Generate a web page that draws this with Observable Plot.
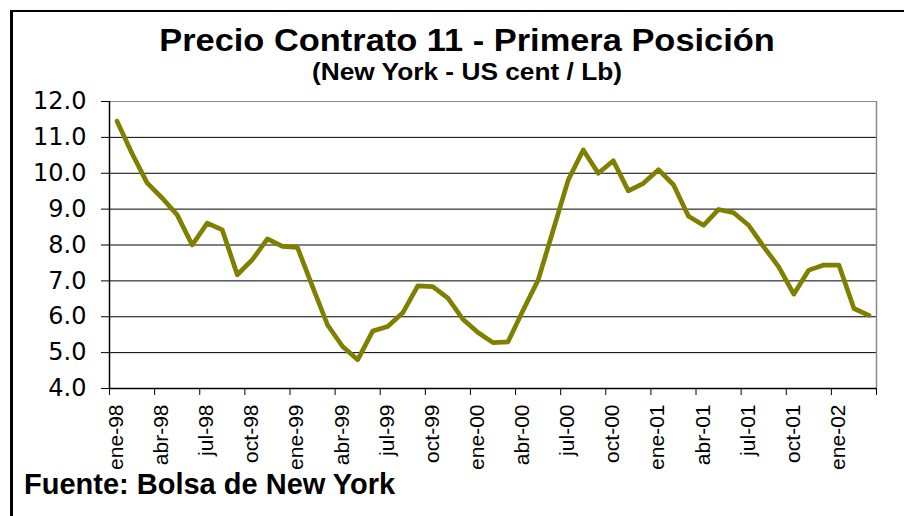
<!DOCTYPE html>
<html>
<head>
<meta charset="utf-8">
<script src="https://cdn.jsdelivr.net/npm/d3@7"></script>
<script src="https://cdn.jsdelivr.net/npm/@observablehq/plot@0.6"></script>
<style>
  html, body { margin: 0; padding: 0; background: #fff; }
  #wrap { position: relative; width: 904px; height: 516px; overflow: hidden; background: #fff; }
  #frame { position: absolute; left: 10px; top: 10px; width: 900px; height: 520px;
           border-left: 3px solid #000; border-top: 2px solid #000; }
  .txt { position: absolute; font-family: "Liberation Sans", Arial, sans-serif; font-weight: bold;
         color: #000; line-height: 0.8; white-space: nowrap; }
  #title { left: 467px; top: 27.6px; font-size: 32px; transform: translateX(-50%) scaleX(1.075); }
  #subtitle { left: 467px; top: 62.1px; font-size: 24px; transform: translateX(-50%) scaleX(1.095); }
  #footer { left: 24px; top: 473px; font-size: 29px; }
  #chart { position: absolute; left: 0; top: 0; }
</style>
</head>
<body>
<div id="wrap">
  <div id="frame"></div>
  <div id="chart"></div>
  <div class="txt" id="title">Precio Contrato 11 - Primera Posición</div>
  <div class="txt" id="subtitle">(New York - US cent / Lb)</div>
  <div class="txt" id="footer">Fuente: Bolsa de New York</div>
</div>
<script>
// Quarter tick labels (one every 3 months, Jan-1998 .. Jan-2002)
const quarterLabels = ["ene-98","abr-98","jul-98","oct-98","ene-99","abr-99","jul-99","oct-99",
  "ene-00","abr-00","jul-00","oct-00","ene-01","abr-01","jul-01","oct-01","ene-02"];

// Monthly price, US cent / Lb, Jan-1998 .. Mar-2002 (51 months)
const prices = [11.45, 10.55, 9.73, 9.31, 8.84, 8.00, 8.61, 8.42, 7.17, 7.59, 8.17, 7.96,
  7.93, 6.84, 5.77, 5.17, 4.80, 5.60, 5.73, 6.11, 6.86, 6.84, 6.52, 5.93,
  5.56, 5.28, 5.30, 6.18, 7.02, 8.41, 9.81, 10.65, 10.00, 10.35, 9.51, 9.72,
  10.10, 9.68, 8.80, 8.55, 8.99, 8.90, 8.55, 7.95, 7.39, 6.63, 7.30, 7.44,
  7.44, 6.23, 6.04];

const yTicks = [4, 5, 6, 7, 8, 9, 10, 11, 12];

const nMonths = prices.length;
const series = prices.map((v, i) => ({month: i + 0.5, price: v}));
const quarterTicks = d3.range(0, nMonths + 1, 3);
const labelPos = quarterLabels.map((_, k) => 3 * k + 0.45);

const chart = Plot.plot({
  width: 904,
  height: 516,
  marginLeft: 109,
  marginRight: 28,
  marginTop: 101,
  marginBottom: 128,
  style: {background: "transparent", overflow: "visible"},
  x: {type: "linear", domain: [0, nMonths]},
  y: {domain: [4, 12]},
  marks: [
    Plot.ruleY(yTicks.filter(d => d > 4 && d < 12), {stroke: "#000", strokeWidth: 1}),
    Plot.ruleY([12], {stroke: "#8a8a8a", strokeWidth: 1}),
    Plot.ruleX([nMonths], {stroke: "#8a8a8a", strokeWidth: 1.5}),
    Plot.axisY({ticks: yTicks, tickFormat: d3.format(".1f"), tickSize: 8, tickPadding: 15,
      fontSize: 24, fontFamily: "DejaVu Sans", fill: "#000", stroke: "#000", label: null}),
    Plot.axisX({ticks: quarterTicks, tickSize: 7, tickFormat: () => "", stroke: "#000", label: null}),
    Plot.axisX({ticks: labelPos, tickSize: 0, tickPadding: 16, tickRotate: -90,
      tickFormat: (d, i) => quarterLabels[i], fontSize: 21, fontFamily: "Liberation Sans",
      fill: "#000", label: null}),
    Plot.ruleX([0], {stroke: "#000", strokeWidth: 1.5}),
    Plot.ruleY([4], {stroke: "#000", strokeWidth: 1.5}),
    Plot.line(series, {x: "month", y: "price", stroke: "#808000", strokeWidth: 4.7})
  ]
});
document.getElementById("chart").appendChild(chart);
</script>
</body>
</html>
